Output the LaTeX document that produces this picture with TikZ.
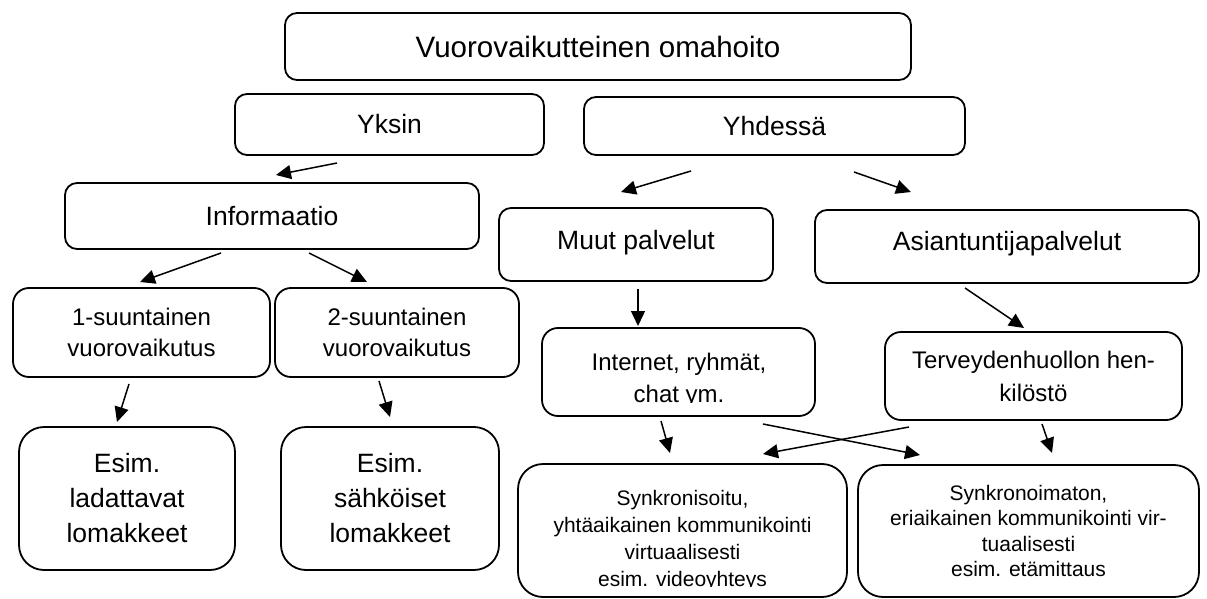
\documentclass[tikz,border=0pt]{standalone}
\usepackage{fontspec}
\setmainfont{Liberation Sans}
\usetikzlibrary{arrows.meta}

\begin{document}
\begin{tikzpicture}[x=1pt,y=-1pt,
  box/.style={draw, line width=1.8pt, inner sep=0pt, align=center, rounded corners=12pt},
  midbox/.style={box, rounded corners=16pt},
  bigbox/.style={box, rounded corners=25pt},
  ftop/.style={font=\fontsize{29.5}{34}\selectfont},
  fbig/.style={font=\fontsize{26.5}{35}\selectfont},
  fmid/.style={font=\fontsize{24}{31}\selectfont},
  fmidb/.style={font=\fontsize{24}{33}\selectfont},
  fsmall/.style={font=\fontsize{21}{25.5}\selectfont},
  arr/.style={line width=1.5pt, -{Triangle[length=15pt,width=14pt]}},
]
\useasboundingbox (0,0) rectangle (1207,599);

% boxes
\node[box, ftop, minimum width=626pt, minimum height=67pt] (top) at (598,46.5) {Vuorovaikutteinen omahoito};
\node[box, fbig, minimum width=309pt, minimum height=61pt] (yksin) at (389.5,124.5) {Yksin};
\node[box, fbig, minimum width=381pt, minimum height=58pt] (yhdessa) at (774.5,126) {Yhdessä};
\node[box, fbig, minimum width=414pt, minimum height=66pt] (info) at (272,216) {Informaatio};
\node[box, fbig, minimum width=274pt, minimum height=73pt] (muut) at (636,244.5) {\raisebox{2pt}[\height][\depth]{Muut palvelut}};
\node[box, fbig, minimum width=384pt, minimum height=73pt] (asian) at (1007,246.5) {\raisebox{3pt}[\height][\depth]{Asiantuntijapalvelut}};

\node[midbox, fmid, minimum width=257pt, minimum height=89pt] (yksi) at (141.5,332.5) {1-suuntainen\\vuorovaikutus};
\node[midbox, fmid, minimum width=244pt, minimum height=89pt] (kaksi) at (397,332.5) {2-suuntainen\\vuorovaikutus};

\node[bigbox, fbig, minimum width=216pt, minimum height=143pt] (esim1) at (127,498.5) {Esim.\\ladattavat\\lomakkeet};
\node[bigbox, fbig, minimum width=218pt, minimum height=143pt] (esim2) at (390,498.5) {Esim.\\sähköiset\\lomakkeet};

% the last text line of these boxes is cut at its baseline
\node[midbox, minimum width=273pt, minimum height=88pt] (internet) at (678.5,372) {};
\node[anchor=base, fmid, inner sep=0pt] (internet1) at (679,370) {Internet, ryhmät,};
\begin{scope}
  \clip (560,380) rectangle (800,402.5);
  \node[anchor=base, fmid, inner sep=0pt] (internet2) at (679,402) {chat ym.};
\end{scope}

\node[midbox, fmidb, minimum width=297pt, minimum height=88pt] (terv) at (1033.5,376) {Terveydenhuollon hen-\\kilöstö};

\node[bigbox, minimum width=329pt, minimum height=133pt] (synk) at (682.5,530.5) {};
\node[anchor=base, fsmall, inner sep=0pt] (synk1) at (682.5,505) {Synkronisoitu,};
\node[anchor=base, fsmall, inner sep=0pt] (synk2) at (682.5,532) {yhtäaikainen kommunikointi};
\node[anchor=base, fsmall, inner sep=0pt] (synk3) at (682.5,559) {virtuaalisesti};
\begin{scope}
  \clip (530,565) rectangle (835,586.5);
  \node[anchor=base, fsmall, inner sep=0pt] (synk4) at (682.5,586) {esim. videoyhteys};
\end{scope}

\node[bigbox, fsmall, minimum width=341pt, minimum height=132pt] (asynk) at (1028.5,531) {Synkronoimaton,\\eriaikainen kommunikointi vir-\\tuaalisesti\\esim. etämittaus};

% arrow end points
\coordinate (a1s) at (337,163);  \coordinate (a1e) at (276,175);
\coordinate (a2s) at (691,171);  \coordinate (a2e) at (621,192);
\coordinate (a3s) at (854,172);  \coordinate (a3e) at (911,192);
\coordinate (a4s) at (221,253);  \coordinate (a4e) at (140,282);
\coordinate (a5s) at (309,253);  \coordinate (a5e) at (367,282);
\coordinate (a6s) at (129,384);  \coordinate (a6e) at (117,422);
\coordinate (a7s) at (379,381);  \coordinate (a7e) at (390,417);
\coordinate (a8s) at (638,289);  \coordinate (a8e) at (638,326);
\coordinate (a9s) at (965,288);  \coordinate (a9e) at (1024,328);
\coordinate (a10s) at (661,421); \coordinate (a10e) at (670,453);
\coordinate (a11s) at (763,424); \coordinate (a11e) at (920,455);
\coordinate (a12s) at (909,427); \coordinate (a12e) at (763,454);
\coordinate (a13s) at (1042,424); \coordinate (a13e) at (1052,453);

% arrows
\foreach \i in {1,...,13} \draw[arr] (a\i s) -- (a\i e);
\end{tikzpicture}
\end{document}
